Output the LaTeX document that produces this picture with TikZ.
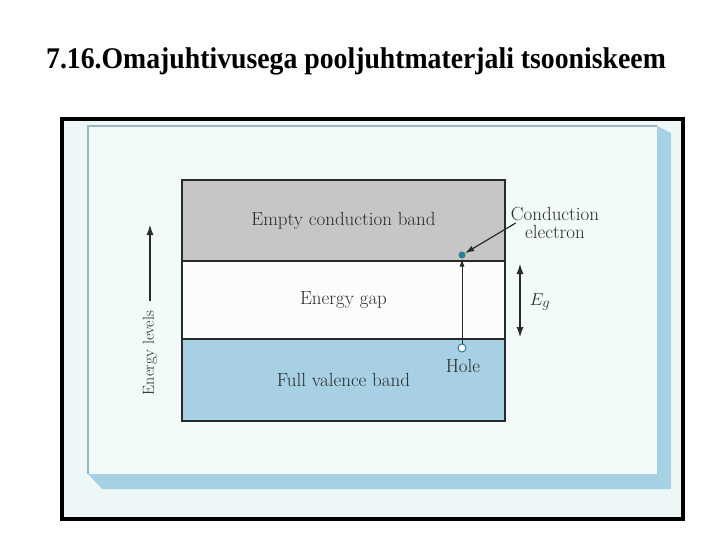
\documentclass[tikz,border=0pt]{standalone}
\usepackage{fontspec}
\newfontfamily\titlefont{Liberation Serif}
\usetikzlibrary{arrows.meta}
\definecolor{paleback}{HTML}{EEF7F7}
\definecolor{panelfill}{HTML}{F3FAFA}
\definecolor{panelline}{HTML}{9CB4BE}
\definecolor{shadowblue}{HTML}{A6D0E4}
\definecolor{condgrey}{HTML}{C6C6C6}
\definecolor{valblue}{HTML}{A8D0E4}
\definecolor{gapwhite}{HTML}{FBFDFD}
\definecolor{dotteal}{HTML}{2A8090}
\definecolor{inkgrey}{HTML}{2A2A2A}
\begin{document}
\begin{tikzpicture}[x=1pt,y=-1pt,
    band/.style={draw=inkgrey,line width=1.5pt,minimum width=323pt,inner sep=0pt,
      font=\fontsize{19}{22}\selectfont,text=inkgrey},
    lbl/.style={font=\fontsize{19}{22}\selectfont,text=inkgrey,inner sep=1pt},
    bigarrow/.style={line width=2pt,draw=inkgrey},
    bigtip/.tip={Latex[length=11pt,width=7pt]}]
  \useasboundingbox (0,0) rectangle (720,540);
  \node (title) at (356,69) [anchor=base,font=\titlefont\bfseries\fontsize{30}{33}\selectfont]
    {\scalebox{0.925}[1]{7.16.Omajuhtivusega pooljuhtmaterjali tsooniskeem}};
  \draw[line width=4pt,fill=paleback] (62,119) rectangle (683,519);
  \fill[shadowblue] (657,126) -- (671,133) -- (671,489) -- (102,489) -- (88,474) -- (657,474) -- cycle;
  \fill[panelfill] (88,126) rectangle (657,474);
  \draw[panelline,line width=1.2pt] (88,474) -- (88,126) -- (657,126);
  \node (cond) at (343.5,220.5) [band,fill=condgrey,minimum height=81pt] {Empty conduction band};
  \node (gap) at (343.5,300) [band,fill=gapwhite,minimum height=78pt] {Energy gap};
  \node (val) at (343.5,380) [band,fill=valblue,minimum height=82pt] {Full valence band};
  \node (elec) at (462,255) [circle,fill=dotteal,inner sep=0pt,minimum size=7pt] {};
  \node (hole) at (462,348) [circle,draw=dotteal,fill=white,line width=1pt,inner sep=0pt,minimum size=8pt] {};
  \node (holelbl) at (463,366) [lbl] {Hole};
  \node (celbl) at (555,223) [lbl,align=center] {Conduction\\[-4pt]electron};
  \node (eg) at (540,302) [lbl] {$E_g$};
  \node (levels) at (150,353) [lbl,rotate=90,font=\fontsize{16}{19}\selectfont] {Energy levels};
  \coordinate (egtop) at (520,263);
  \coordinate (egbot) at (520,338);
  \coordinate (lvtop) at (150,224);
  \coordinate (lvbot) at (150,301);
  \draw[-{Latex[length=8pt,width=5pt]},line width=1pt,inkgrey] (hole) -- (elec);
  \draw[-{Latex[length=9pt,width=6pt]},line width=1.2pt,inkgrey] ([xshift=6pt]celbl.west) -- (elec);
  \draw[bigarrow,bigtip-bigtip] (egtop) -- (egbot);
  \draw[bigarrow,-bigtip] (lvbot) -- (lvtop);
\end{tikzpicture}
\end{document}
